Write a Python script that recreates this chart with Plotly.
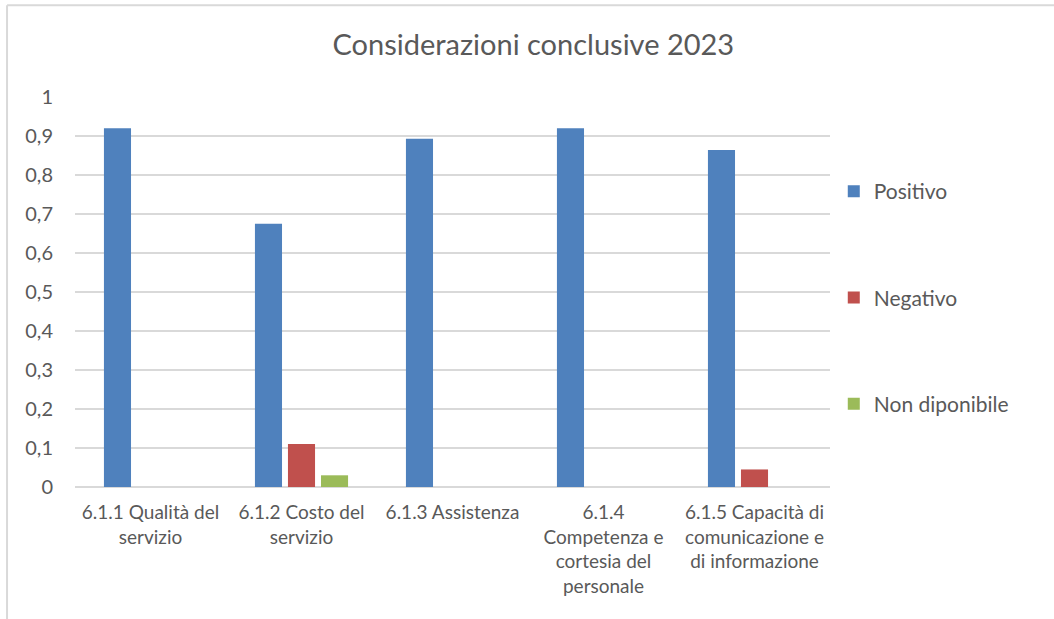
import plotly.graph_objects as go

categories = [
    "6.1.1 Qualità del<br>servizio",
    "6.1.2 Costo del<br>servizio",
    "6.1.3 Assistenza",
    "6.1.4<br>Competenza e<br>cortesia del<br>personale",
    "6.1.5 Capacità di<br>comunicazione e<br>di informazione",
]
positivo = [0.92, 0.675, 0.893, 0.92, 0.864]
negativo = [0, 0.11, 0, 0, 0.045]
non_disponibile = [0, 0.03, 0, 0, 0]

series = [
    ("Positivo", positivo, "#4F81BD"),
    ("Negativo", negativo, "#C0504D"),
    ("Non diponibile", non_disponibile, "#9BBB59"),
]

FONT = "Lato, Carlito, Calibri, sans-serif"
TXT = "#595959"

fig = go.Figure()
for i, (name, vals, col) in enumerate(series):
    fig.add_trace(go.Bar(
        x=categories, y=vals, name=name,
        marker=dict(color=col, line=dict(width=0)),
        legendgroup=f"g{i}",
    ))

fig.update_layout(
    width=1054, height=619,
    paper_bgcolor="white", plot_bgcolor="white",
    margin=dict(l=75, r=224, t=97, b=132),
    barmode="group", bargap=0.344, bargroupgap=0.18,
    separators=",.",
    font=dict(family=FONT, color=TXT, size=16),
    title=dict(text="Considerazioni conclusive 2023", x=0.506, xref="container",
               y=0.927, yref="container", xanchor="center", yanchor="middle",
               font=dict(size=29, color=TXT, family=FONT)),
    legend=dict(x=1.005, xanchor="left", y=0.81, yanchor="top",
                traceorder="grouped", tracegroupgap=76,
                font=dict(size=21, color=TXT, family=FONT),
                itemwidth=30, bgcolor="rgba(0,0,0,0)"),
    xaxis=dict(showgrid=False, showline=False, ticks="",
               tickfont=dict(size=19, color=TXT), tickangle=0,
               ticklabelstandoff=12),
    yaxis=dict(range=[0, 1], dtick=0.1, tick0=0, showgrid=True,
               gridcolor="#d9d9d9", gridwidth=2, zeroline=True,
               zerolinecolor="#d9d9d9", zerolinewidth=2,
               showline=False, ticks="", ticklabelstandoff=21,
               tickfont=dict(size=20, color=TXT)),
    shapes=[
        dict(type="line", xref="paper", yref="paper",
             x0=-0.09, x1=-0.09, y0=-0.34, y1=1.235,
             line=dict(color="#d9d9d9", width=2)),
        dict(type="line", xref="paper", yref="paper",
             x0=-0.09, x1=1.3, y0=1.235, y1=1.235,
             line=dict(color="#d9d9d9", width=2)),
    ],
)

fig.write_html("out.html", config={"displayModeBar": False},
               post_script="document.body.style.margin='0';")
